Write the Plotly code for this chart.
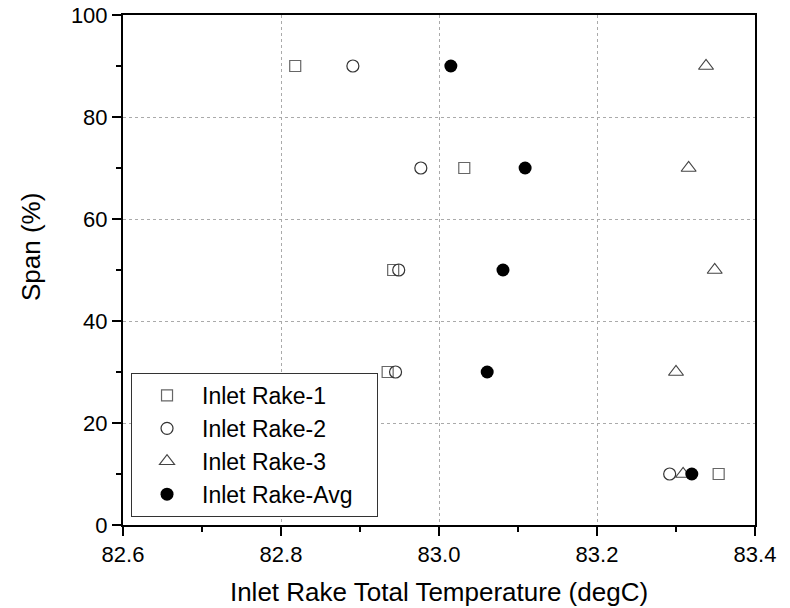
import plotly.graph_objects as go

span = [90, 70, 50, 30, 10]
rake1 = [82.818, 83.032, 82.942, 82.935, 83.354]
rake2 = [82.891, 82.977, 82.949, 82.945, 83.292]
rake3 = [83.338, 83.316, 83.349, 83.300, 83.309]
rake_avg = [83.015, 83.109, 83.081, 83.061, 83.320]

series = [
    ("Inlet Rake-1", rake1, dict(symbol="square-open", size=11, color="#666666", line=dict(width=1.2, color="#666666"))),
    ("Inlet Rake-2", rake2, dict(symbol="circle-open", size=12, color="#333333", line=dict(width=1.2, color="#333333"))),
    ("Inlet Rake-3", rake3, dict(symbol="triangle-up-open", size=13, color="#444444", line=dict(width=1.2, color="#444444"))),
    ("Inlet Rake-Avg\u00a0\u00a0\u00a0", rake_avg, dict(symbol="circle", size=13, color="#000000", line=dict(width=0))),
]

fig = go.Figure()
for name, xs, mk in series:
    fig.add_trace(go.Scatter(x=xs, y=span, mode="markers", name=name, marker=mk))

font = "Liberation Sans, Arial, sans-serif"
axis_common = dict(
    showline=True, linecolor="black", linewidth=2, mirror=True,
    ticks="outside", tickwidth=2, ticklen=9, tickcolor="black",
    showgrid=True, gridcolor="#aaaaaa", gridwidth=1, griddash="3px,3px",
    zeroline=False, automargin=False,
    tickfont=dict(family=font, size=22, color="black"),
)

fig.update_layout(
    width=790, height=608,
    margin=dict(l=123, r=35, t=15, b=83),
    plot_bgcolor="white", paper_bgcolor="white",
    font=dict(family=font, color="black"),
    xaxis=dict(
        range=[82.6, 83.4], dtick=0.2, tick0=82.6, tickformat=".1f",
        title=dict(text="Inlet Rake Total Temperature (degC)", font=dict(family=font, size=26), standoff=16),
        minor=dict(dtick=0.1, tick0=82.6, ticks="outside", ticklen=5, tickwidth=2, tickcolor="black", showgrid=False),
        **axis_common,
    ),
    yaxis=dict(
        range=[0, 100], dtick=20,
        minor=dict(dtick=10, ticks="outside", ticklen=5, tickwidth=2, tickcolor="black", showgrid=False),
        **axis_common,
    ),
    annotations=[dict(
        text="Span (%)", textangle=-90, showarrow=False,
        xref="paper", yref="paper", x=-0.1456, y=0.545,
        xanchor="center", yanchor="middle",
        font=dict(family=font, size=26, color="black"),
    )],
    legend=dict(
        x=0.0127, y=0.0157, xanchor="left", yanchor="bottom",
        bordercolor="#333333", borderwidth=1, bgcolor="white",
        font=dict(family=font, size=23, color="black"),
        itemwidth=60,
    ),
    showlegend=True,
)

fig.write_html("out.html")
